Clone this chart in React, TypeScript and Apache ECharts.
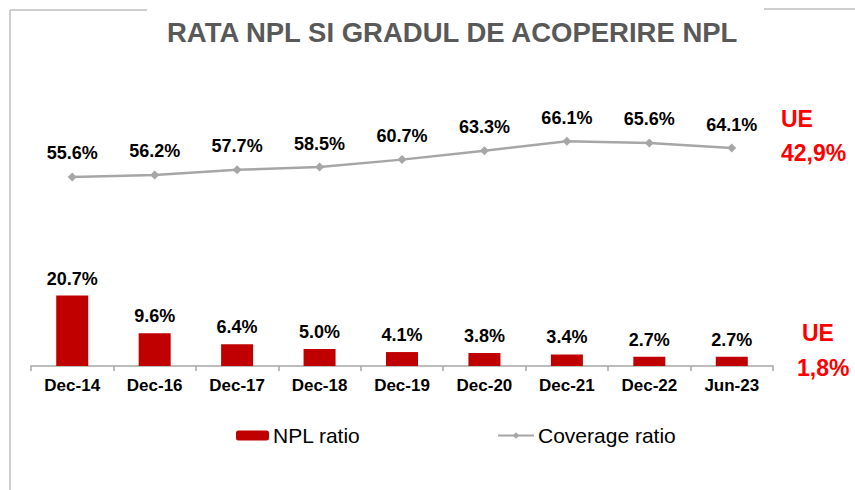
import React, { useEffect, useRef } from "react";
import * as echarts from "echarts";

const categories = ["Dec-14", "Dec-16", "Dec-17", "Dec-18", "Dec-19", "Dec-20", "Dec-21", "Dec-22", "Jun-23"];
const nplRatio = [20.7, 9.6, 6.4, 5.0, 4.1, 3.8, 3.4, 2.7, 2.7];
const coverageRatio = [55.6, 56.2, 57.7, 58.5, 60.7, 63.3, 66.1, 65.6, 64.1];
const titleText = "RATA NPL SI GRADUL DE ACOPERIRE NPL";
const ueCoverage = ["UE", "42,9%"];
const ueNpl = ["UE", "1,8%"];

export default function App() {
  const ref = useRef<HTMLDivElement>(null);
  useEffect(() => {
    if (!ref.current) return;
    const chart = echarts.init(ref.current, null, { renderer: "svg" });
    const font = "Arial, 'Liberation Sans', sans-serif";
    chart.setOption({
      animation: false,
      backgroundColor: "#ffffff",
      textStyle: { fontFamily: font },
      title: {
        text: titleText,
        left: 162,
        top: 13,
        textStyle: { fontFamily: font, fontSize: 27.5, fontWeight: "bold", color: "#595959" },
      },
      grid: { left: 31, right: 82, top: 94, bottom: 124, containLabel: false },
      legend: [
        {
          data: ["NPL ratio"],
          left: 236,
          top: 425,
          padding: 0,
          itemWidth: 33,
          itemHeight: 10,
          textStyle: { fontFamily: font, fontSize: 21, color: "#000000", padding: [0, 0, 0, -1] },
        },
        {
          data: ["Coverage ratio"],
          left: 497,
          top: 425,
          padding: 0,
          itemWidth: 36,
          itemHeight: 8,
          textStyle: { fontFamily: font, fontSize: 21, color: "#000000", padding: [0, 0, 0, -1] },
        },
      ],
      xAxis: {
        type: "category",
        data: categories,
        boundaryGap: true,
        axisLine: { show: true, lineStyle: { color: "#A6A6A6", width: 1.5 } },
        axisTick: { show: true, length: 5, lineStyle: { color: "#A6A6A6", width: 1.5 } },
        axisLabel: { fontFamily: font, fontSize: 17, fontWeight: "bold", color: "#000000", margin: 11 },
      },
      yAxis: {
        type: "value",
        min: 0,
        max: 80,
        show: false,
        splitLine: { show: false },
      },
      series: [
        {
          name: "NPL ratio",
          type: "bar",
          data: nplRatio,
          barWidth: 32,
          itemStyle: { color: "#C00000" },
          label: {
            show: true,
            position: "top",
            distance: 8,
            formatter: (p: any) => p.value.toFixed(1) + "%",
            fontFamily: font,
            fontSize: 18,
            fontWeight: "bold",
            color: "#000000",
          },
        },
        {
          name: "Coverage ratio",
          type: "line",
          data: coverageRatio,
          symbol: "diamond",
          symbolSize: 9,
          lineStyle: { color: "#A6A6A6", width: 2.5 },
          itemStyle: { color: "#A6A6A6" },
          label: {
            show: true,
            position: "top",
            distance: 10,
            formatter: (p: any) => p.value.toFixed(1) + "%",
            fontFamily: font,
            fontSize: 18,
            fontWeight: "bold",
            color: "#000000",
          },
        },
      ],
      graphic: [
        { type: "line", shape: { x1: 10, y1: 10, x2: 10, y2: 490 }, style: { stroke: "#BFBFBF", lineWidth: 1.5 } },
        { type: "line", shape: { x1: 10, y1: 10, x2: 147, y2: 10 }, style: { stroke: "#BFBFBF", lineWidth: 1.5 } },
        { type: "line", shape: { x1: 764, y1: 9, x2: 855, y2: 9 }, style: { stroke: "#BFBFBF", lineWidth: 1.5 } },
        {
          type: "text", left: 781, top: 107,
          style: { text: ueCoverage[0], fontFamily: font, fontSize: 23, fontWeight: "bold", fill: "#FF0000" },
        },
        {
          type: "text", left: 781, top: 141,
          style: { text: ueCoverage[1], fontFamily: font, fontSize: 23, fontWeight: "bold", fill: "#FF0000" },
        },
        {
          type: "text", left: 802, top: 321,
          style: { text: ueNpl[0], fontFamily: font, fontSize: 23, fontWeight: "bold", fill: "#FF0000" },
        },
        {
          type: "text", left: 797, top: 356,
          style: { text: ueNpl[1], fontFamily: font, fontSize: 23, fontWeight: "bold", fill: "#FF0000" },
        },
      ],
    });
    return () => chart.dispose();
  }, []);
  return <div ref={ref} style={{ width: 855, height: 490, position: "fixed", left: 0, top: 0 }} />;
}
